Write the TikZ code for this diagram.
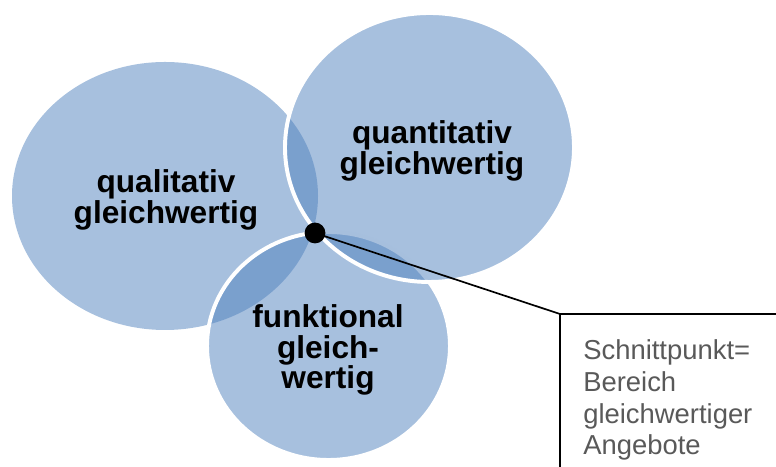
\documentclass[tikz,border=0pt]{standalone}
\usepackage{fontspec}
\setmainfont{Liberation Sans}
\usetikzlibrary{positioning}
\definecolor{vennblue}{HTML}{4F81BD}
\definecolor{notegray}{HTML}{595959}

\begin{document}
\begin{tikzpicture}[font=\fontsize{22.5}{21.5}\selectfont\bfseries,
    venn/.style={fill=vennblue, fill opacity=0.5},
    rim/.style={draw=white, line width=2.8pt},
    label/.style={align=center, inner sep=0pt}]
        \useasboundingbox (0,0) rectangle (19.4,11.675);
        \path[venn] (4.125,6.775) ellipse [x radius=3.825, y radius=3.35];
        \path[venn, rim] (8.2125,3.025) ellipse [x radius=3.0375, y radius=2.85];
        \path[venn, rim] (10.7375,7.9875) ellipse [x radius=3.6125, y radius=3.3625];
        \node[label] (quali) at (4.15,6.675) {qualitativ\\gleichwertig};
        \node[label] (quanti) at (10.8,7.9) {quantitativ\\gleichwertig};
        \node[label] (funk) at (8.2,2.925) {funktional\\gleich-\\wertig};
        \node[circle, fill=black, inner sep=0pt, minimum size=0.52cm] (knot) at (7.875,5.85) {};
        \coordinate (corner) at (14.0,3.825);
        \coordinate (floor) at (14.0,0);
        \coordinate (edge) at (19.4,3.825);
        \draw[line width=1.2pt] (knot.center) -- (corner) -- (floor);
        \draw[line width=1.2pt] (corner) -- (edge);
        \node[anchor=base west, align=left, inner sep=0pt, text=notegray,
              font=\fontsize{19.5}{22.75}\selectfont] (note) at (14.575,0.3)
              {Schnittpunkt=\\Bereich\\gleichwertiger\\Angebote};
    \end{tikzpicture}
\end{document}
